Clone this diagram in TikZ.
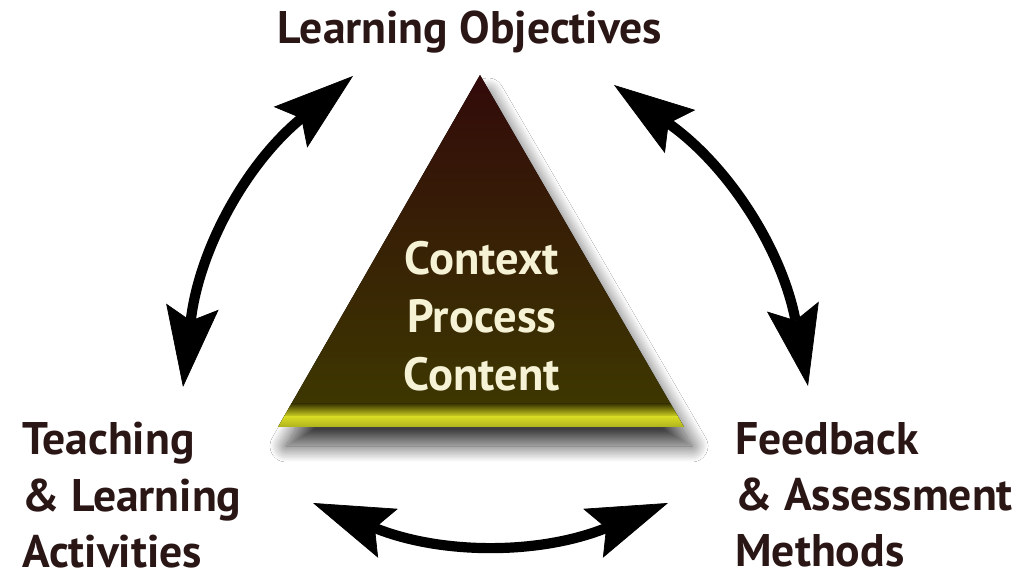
\documentclass[tikz,border=0pt]{standalone}
\usepackage{fontspec}
\setmainfont{PT Sans}
\usepackage{color}
\definecolor{mybrown}{RGB}{43,22,22}
\definecolor{mytop}{RGB}{50,10,10}
\definecolor{mybottom}{RGB}{62,58,0}
\definecolor{myyellow}{RGB}{214,218,36}
\definecolor{mycream}{RGB}{246,242,214}
\usepackage{tikz}
\usetikzlibrary{arrows.meta,shadows.blur,positioning}

\begin{document}
\begin{tikzpicture}[
  x=0.02cm, y=0.02cm,
  myarrow/.style={
    line width=5.8pt,
    {Stealth[length=46pt,width=30pt,inset=8pt,line width=0.4pt,fill=black]}-{Stealth[length=46pt,width=30pt,inset=8pt,line width=0.4pt,fill=black]}
    },
  mylabel/.style={
    font=\fontsize{26}{32}\selectfont\bfseries,
    text=mybrown,
    align=left,
    inner sep=0pt
    },
  mytext/.style={
    font=\fontsize{26.5}{33}\selectfont\bfseries,
    text=mycream,
    align=center,
    inner sep=0pt
    }
]
\useasboundingbox[fill=white] (0,0) rectangle (1033,-573);

% triangle
\coordinate (apex) at (480,-75);
\coordinate (bl) at (278,-427);
\coordinate (br) at (684,-427);
\fill[top color=mytop, bottom color=mybottom,
  blur shadow={shadow xshift=0.16cm, shadow yshift=-0.38cm,
    shadow blur radius=0.32cm, shadow opacity=75, shadow blur steps=25}]
  (apex) -- (br) -- (bl) -- cycle;
\begin{scope}
  \clip (apex) -- (br) -- (bl) -- cycle;
  \shade[top color=mybottom, bottom color=myyellow]
    (250,-404) rectangle (700,-417);
  \shade[top color=myyellow, bottom color=myyellow!80!black]
    (250,-417) rectangle (700,-428);
\end{scope}
\node[mytext] (inner) at (482,-316) {Context\\Process\\Content};

% labels
\node[mylabel, anchor=base] (objectives) at (470,-44) {Learning Objectives};
\node[mylabel, anchor=north west] (teaching) at (22,-422)
  {Teaching\\\& Learning\\Activities};
\node[mylabel, anchor=north west] (feedback) at (735,-422)
  {Feedback\\\& Assessment\\Methods};

% arrow ends
\coordinate (lo) at (183,-387);
\coordinate (lt) at (353,-76);
\coordinate (rt) at (614,-85);
\coordinate (ro) at (808,-386);
\coordinate (bl2) at (313,-503);
\coordinate (br2) at (668,-503);

\draw[myarrow] (lo) to[bend left=22] (lt);
\draw[myarrow] (rt) to[bend left=22] (ro);
\draw[myarrow] (bl2) to[bend right=22] (br2);

\end{tikzpicture}
\end{document}
